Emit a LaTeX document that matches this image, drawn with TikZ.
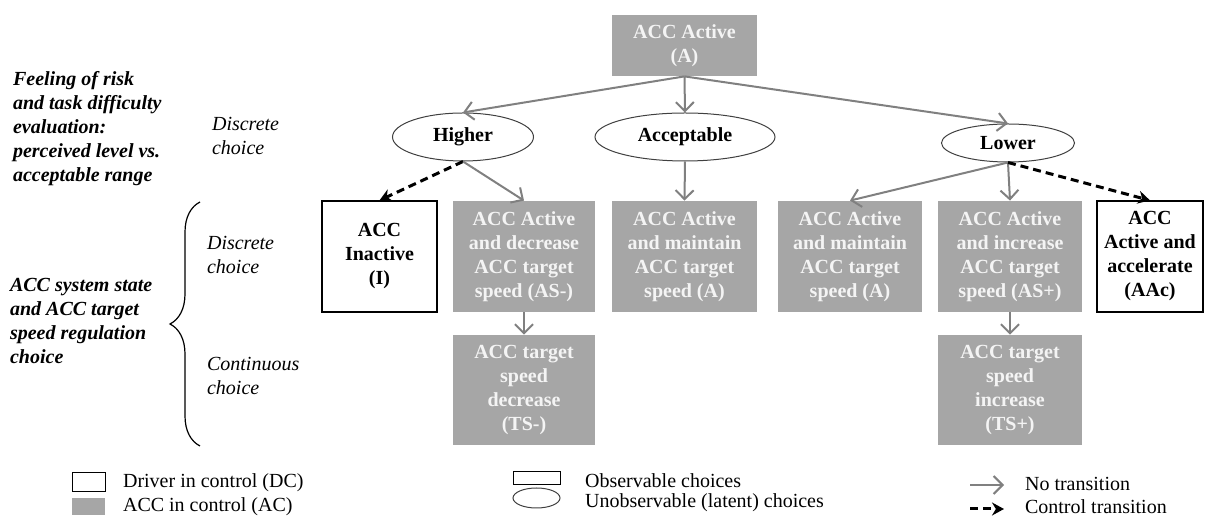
\documentclass[tikz,border=0pt]{standalone}
\usepackage{fontspec}
\setmainfont{Liberation Serif}
\usepackage{tikz}
\usetikzlibrary{arrows.meta,shapes.geometric,decorations.pathreplacing}
\definecolor{boxgray}{HTML}{A6A6A6}
\definecolor{boxtext}{HTML}{F4F4F4}
\definecolor{arrgray}{HTML}{808080}
\definecolor{ellgray}{HTML}{404040}
\tikzset{
  acbox/.style={rectangle,fill=boxgray,text=boxtext,font=\bfseries,align=center,
    minimum width=71pt,minimum height=55.5pt,inner sep=1pt},
  dcbox/.style={rectangle,draw=black,line width=0.6pt,fill=white,font=\bfseries,
    align=center,minimum height=55.5pt,inner sep=1pt},
  latent/.style={ellipse,draw=ellgray,line width=0.5pt,font=\bfseries,inner sep=0pt},
  notrans/.style={draw=arrgray,line width=1pt,-{Straight Barb[length=4.5pt,width=9pt]}},
  ctrltrans/.style={draw=black,line width=1.5pt,dash pattern=on 4pt off 2.5pt,
    -{Stealth[length=6pt,width=6.5pt]}},
  lvl/.style={font=\bfseries\itshape,align=left,anchor=west},
  kind/.style={font=\itshape,align=left,anchor=west},
  legtext/.style={anchor=west}
}

\begin{document}
\begin{tikzpicture}[x=0.5pt,y=-0.5pt]
  \useasboundingbox (0,0) rectangle (1211,517);
  % left-hand labels
  \node[lvl] (risk) at (6,129) {Feeling of risk\\and task difficulty\\evaluation:\\perceived level vs.\\acceptable range};
  \node[lvl] (state) at (3,321) {ACC system state\\and ACC target\\speed regulation\\choice};
  \node[kind] (disc1) at (205,136) {Discrete\\choice};
  \node[kind] (disc2) at (200,255) {Discrete\\choice};
  \node[kind] (cont) at (200,376) {Continuous\\choice};
  \draw[line width=0.6pt,decorate,decoration={brace,amplitude=15pt}] (200,446) -- (200,202);

  % root and latent evaluation
  \node[acbox,minimum width=72.5pt,minimum height=30.5pt] (act) at (684.5,45.5) {ACC Active\\(A)};
  \node[latent,minimum width=70.5pt,minimum height=24pt] (hi) at (463,137) {Higher};
  \node[latent,minimum width=90pt,minimum height=24pt] (ok) at (685,137) {Acceptable};
  \node[latent,minimum width=66.5pt,minimum height=19pt] (lo) at (1008,143) {Lower};

  % observable choices
  \node[dcbox,minimum width=57.5pt] (inact) at (379.5,256.5) {ACC\\Inactive\\(I)};
  \node[acbox] (dec) at (524,256.5) {ACC Active\\and decrease\\ACC target\\speed (AS-)};
  \node[acbox,minimum width=72.5pt] (keep) at (684.5,256.5) {ACC Active\\and maintain\\ACC target\\speed (A)};
  \node[acbox,minimum width=72pt] (keepl) at (850,256.5) {ACC Active\\and maintain\\ACC target\\speed (A)};
  \node[acbox,minimum width=72pt] (inc) at (1010,256.5) {ACC Active\\and increase\\ACC target\\speed (AS+)};
  \node[dcbox,minimum width=53pt] (accel) at (1150,256.5) {ACC\\Active and\\accelerate\\(AAc)};
  \node[acbox,minimum height=55pt] (tsdec) at (524,390) {ACC target\\speed\\decrease\\(TS-)};
  \node[acbox,minimum width=72pt,minimum height=55pt] (tsinc) at (1010,390) {ACC target\\speed\\increase\\(TS+)};

  % transitions
  \draw[notrans] (act.south) -- (hi.north);
  \draw[notrans] (act.south) -- (ok.north);
  \draw[notrans] (act.south) -- (lo.north);
  \draw[ctrltrans] (hi.south) -- (inact.north);
  \draw[notrans] (hi.south) -- (dec.north);
  \draw[notrans] (ok.south) -- (keep.north);
  \draw[notrans] (lo.south) -- (keepl.north);
  \draw[notrans] (lo.south) -- (inc.north);
  \draw[ctrltrans] (lo.south) -- (accel.north);
  \draw[notrans] (dec.south) -- (tsdec.north);
  \draw[notrans] (inc.south) -- (tsinc.north);

  % legend
  \node[rectangle,draw=black,line width=0.5pt,minimum width=16.5pt,minimum height=9.5pt,inner sep=0pt] (legdc) at (88.5,482.5) {};
  \node[rectangle,fill=boxgray,minimum width=16.5pt,minimum height=8.5pt,inner sep=0pt] (legac) at (88.5,506.5) {};
  \node[legtext] (txtdc) at (116,483) {Driver in control (DC)};
  \node[legtext] (txtac) at (116,507) {ACC in control (AC)};
  \node[rectangle,draw=black,line width=0.5pt,minimum width=23.5pt,minimum height=6.5pt,inner sep=0pt] (legobs) at (536.5,478.5) {};
  \node[ellipse,draw=ellgray,line width=0.5pt,minimum width=23.5pt,minimum height=10pt,inner sep=0pt] (leglat) at (536.5,498) {};
  \node[legtext] (txtobs) at (578,481) {Observable choices};
  \node[legtext] (txtlat) at (578,503) {Unobservable (latent) choices};
  \coordinate (na) at (970,485);
  \coordinate (nb) at (1004,485);
  \coordinate (ca) at (970,509);
  \coordinate (cb) at (1004,509);
  \draw[notrans] (na) -- (nb);
  \draw[ctrltrans] (ca) -- (cb);
  \node[legtext] (txtno) at (1018,484) {No transition};
  \node[legtext] (txtctl) at (1018,507) {Control transition};
\end{tikzpicture}
\end{document}
